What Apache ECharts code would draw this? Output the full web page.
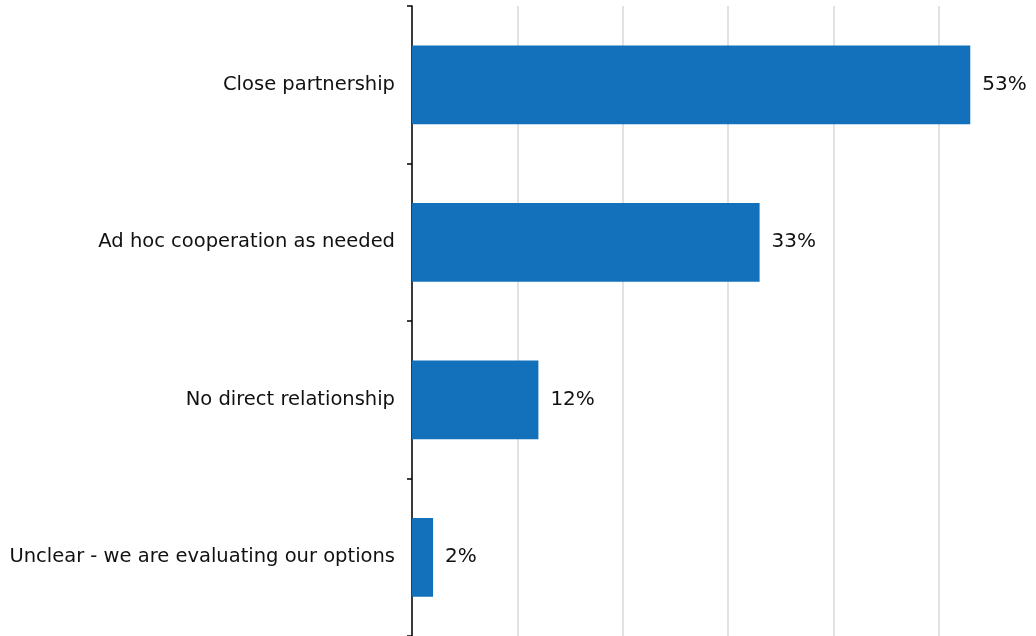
<!DOCTYPE html>
<html>
<head>
<meta charset="utf-8">
<script src="https://cdn.jsdelivr.net/npm/echarts@6/dist/echarts.min.js"></script>
<style>
  html, body { margin: 0; padding: 0; background: #ffffff; overflow: hidden; }
  /* the plot area runs a few pixels past the right edge of the window */
  #chart { width: 1044px; height: 636px; }
</style>
</head>
<body>
<div id="chart"></div>
<script>
// Survey answers, listed top to bottom as drawn
const categories = [
  'Close partnership',
  'Ad hoc cooperation as needed',
  'No direct relationship',
  'Unclear - we are evaluating our options'
];
const shares = [53, 33, 12, 2];   // percent of respondents
const axisMax = 60;
const axisStep = 10;

const chart = echarts.init(document.getElementById('chart'), null, { renderer: 'canvas' });

chart.setOption({
  animation: false,
  backgroundColor: '#ffffff',
  textStyle: { fontFamily: 'DejaVu Sans' },
  grid: { left: 412, right: 0, top: 6, bottom: -1, containLabel: false },
  xAxis: {
    type: 'value',
    min: 0,
    max: axisMax,
    interval: axisStep,
    axisLine: { show: false },
    axisTick: { show: false },
    axisLabel: { show: false },
    splitLine: { show: true, showMaxLine: false, lineStyle: { color: '#d9d9d9', width: 1.5 } }
  },
  yAxis: {
    type: 'category',
    inverse: true,
    data: categories,
    axisLine: { show: true, lineStyle: { color: '#000000', width: 1.5 } },
    axisTick: { show: true, inside: false, length: 5, lineStyle: { color: '#000000', width: 1.5 } },
    axisLabel: {
      color: '#111111',
      fontSize: 19.5,
      fontFamily: 'DejaVu Sans',
      margin: 17
    },
    splitLine: { show: false }
  },
  series: [{
    type: 'bar',
    data: shares,
    barWidth: '50%',
    itemStyle: { color: '#1271BA' },
    label: {
      show: true,
      position: 'right',
      distance: 12,
      formatter: p => p.value + '%',
      color: '#111111',
      fontSize: 20,
      fontFamily: 'DejaVu Sans'
    }
  }]
});
</script>
</body>
</html>
